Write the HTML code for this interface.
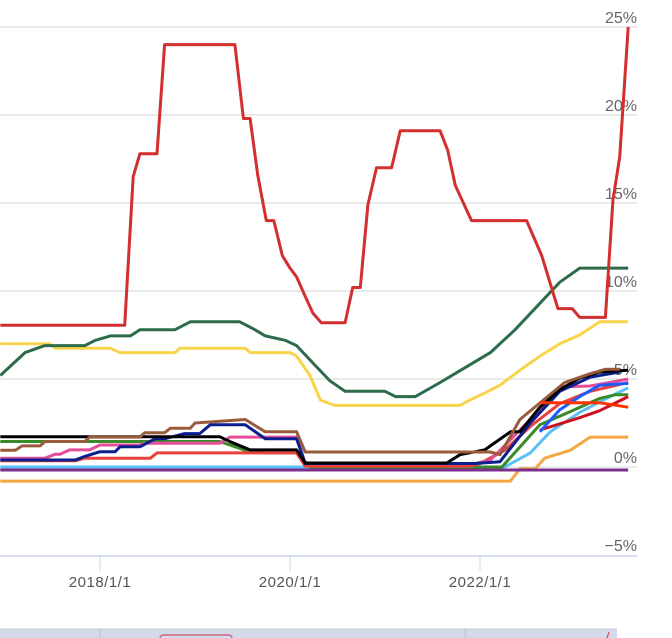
<!DOCTYPE html>
<html><head><meta charset="utf-8"><style>
html,body{margin:0;padding:0;background:#fff;width:672px;height:638px;overflow:hidden}
svg{display:block;font-family:"Liberation Sans",sans-serif}
</style></head><body>
<svg id="chart" width="672" height="638">
<g id="grid"></g>
<g id="series"></g>
<g id="xaxis"></g>
<g>
<rect x="0" y="629" width="617" height="9" fill="#d3daea"/>
<line x1="0" y1="629" x2="617" y2="629" stroke="#c4cad8"/>
<line x1="100" y1="629" x2="100" y2="638" stroke="#bcc4d6"/>
<line x1="465" y1="629" x2="465" y2="638" stroke="#bcc4d6"/>
<rect x="160" y="635" width="72" height="8" rx="3" fill="none" stroke="#c9506a" stroke-width="1.2"/>
<line x1="607" y1="638" x2="609" y2="632" stroke="#d33" stroke-width="1"/>
</g>
</svg>
<script>
const yTicks=[25,20,15,10,5,0,-5];
const yTickLabels=["25%","20%","15%","10%","5%","0%","\u22125%"];
const xTicks=[2018,2020,2022];
const xTickLabels=["2018/1/1","2020/1/1","2022/1/1"];

const redDates=[2016.95,2018.26,2018.35,2018.42,2018.6,2018.68,2019.42,2019.51,2019.58,2019.66,2019.75,2019.83,2019.92,2020,2020.07,2020.16,2020.24,2020.33,2020.58,2020.66,2020.74,2020.82,2020.91,2021.07,2021.16,2021.58,2021.66,2021.74,2021.91,2022.49,2022.65,2022.82,2022.97,2023.05,2023.32,2023.4,2023.47,2023.56];
const redValues=[8.05,8.05,16.5,17.8,17.8,24,24,19.8,19.8,16.6,14,14,12,11.3,10.8,9.7,8.75,8.2,8.2,10.2,10.2,14.9,17,17,19.1,19.1,18,16,14,14,12,9,9,8.5,8.5,15.2,17.6,25];
const dgreenDates=[2016.95,2017.21,2017.42,2017.84,2017.95,2018.11,2018.32,2018.42,2018.79,2018.95,2019.47,2019.63,2019.74,2019.95,2020.07,2020.26,2020.42,2020.58,2021,2021.11,2021.32,2021.58,2021.89,2022.11,2022.37,2022.63,2022.84,2023.05,2023.56];
const dgreenValues=[5.2,6.5,6.9,6.9,7.2,7.45,7.45,7.8,7.8,8.25,8.25,7.8,7.45,7.2,6.9,5.8,4.9,4.3,4.3,4.0,4.0,4.8,5.8,6.5,7.8,9.3,10.5,11.3,11.3];
const yellowDates=[2016.95,2017.47,2017.53,2018.11,2018.21,2018.79,2018.84,2019.53,2019.58,2020,2020.07,2020.21,2020.32,2020.47,2021.79,2021.89,2022.05,2022.21,2022.42,2022.63,2022.84,2023.05,2023.26,2023.56];
const yellowValues=[7.0,7.0,6.75,6.75,6.5,6.5,6.75,6.75,6.5,6.5,6.3,5.2,3.8,3.5,3.5,3.8,4.2,4.65,5.5,6.3,7.0,7.5,8.25,8.25];
const brownDates=[2016.95,2017.11,2017.18,2017.37,2017.42,2017.84,2017.89,2018.42,2018.47,2018.68,2018.74,2018.95,2019.0,2019.53,2019.74,2020.07,2020.16,2022.11,2022.21,2022.42,2022.89,2023.16,2023.32,2023.47];
const brownValues=[0.95,0.95,1.2,1.2,1.45,1.45,1.7,1.7,1.95,1.95,2.2,2.2,2.5,2.7,2.0,2.0,0.85,0.85,0.7,2.7,4.8,5.3,5.55,5.55];
const navyDates=[2016.95,2017.74,2017.84,2018,2018.16,2018.21,2018.42,2018.58,2018.68,2018.89,2019.05,2019.16,2019.53,2019.74,2020.07,2020.16,2021.95,2022.21,2022.53,2022.84,2023.16,2023.47];
const navyValues=[0.4,0.4,0.6,0.87,0.87,1.15,1.15,1.6,1.6,1.9,1.9,2.4,2.4,1.6,1.6,0.2,0.2,0.3,2.5,4.3,5.1,5.4];
const pinkDates=[2016.95,2017.42,2017.53,2017.58,2017.68,2017.89,2018,2018.42,2018.47,2019.26,2019.37,2020.07,2020.16,2021.95,2022.11,2022.53,2022.84,2023.16,2023.56];
const pinkValues=[0.5,0.5,0.73,0.73,0.97,0.97,1.25,1.25,1.35,1.35,1.7,1.7,0.2,0.2,0.4,2.7,4.55,4.6,5.0];
const lredDates=[2016.95,2017.74,2017.84,2018.53,2018.6,2020.07,2020.16,2021.89,2022.0,2022.26,2022.53,2022.84,2023.16,2023.56];
const lredValues=[0.35,0.35,0.5,0.5,0.8,0.8,0.05,0.05,0.2,0.95,2.3,3.6,4.3,4.8];
const blackDates=[2016.95,2019.26,2019.37,2019.58,2020.07,2020.16,2021.65,2021.79,2022.05,2022.32,2022.42,2022.63,2022.84,2023.05,2023.26,2023.56];
const blackValues=[1.72,1.72,1.44,0.97,0.97,0.23,0.23,0.7,0.97,2.0,2.0,3.4,4.4,5.05,5.4,5.5];
const mgreenDates=[2016.95,2019.26,2019.53,2019.74,2020.07,2020.21,2022.23,2022.63,2022.95,2023.26,2023.42,2023.56];
const mgreenValues=[1.45,1.45,0.95,0.8,0.8,0.0,0.0,2.4,3.15,3.9,4.1,4.1];
const lblueDates=[2016.95,2022.26,2022.53,2022.74,2023.05,2023.37,2023.56];
const lblueValues=[0.0,0.0,0.8,2.0,3.1,4.0,4.5];
const purpleDates=[2016.95,2023.56];
const purpleValues=[-0.17,-0.17];
const orangeDates=[2016.95,2022.32,2022.42,2022.58,2022.68,2022.95,2023.16,2023.56];
const orangeValues=[-0.8,-0.8,-0.1,-0.1,0.5,0.95,1.7,1.7];
const blueDates=[2022.63,2022.84,2023.05,2023.26,2023.56];
const blueValues=[2.0,3.25,4.0,4.65,4.75];
const oredDates=[2022.63,2023.26,2023.56];
const oredValues=[3.65,3.65,3.4];
const crimsonDates=[2022.63,2023.05,2023.26,2023.56];
const crimsonValues=[2.1,2.8,3.2,4.0];

const NS="http://www.w3.org/2000/svg";
function xScale(yr){return 100+(yr-2018)*95;}
function yScale(v){return 467-v*17.6;}
const grid=document.getElementById('grid');
yTicks.forEach((t,i)=>{
  const y=yScale(t);
  if(t!==-5){
    const l=document.createElementNS(NS,'line');
    l.setAttribute('x1',0);l.setAttribute('x2',637);l.setAttribute('y1',y);l.setAttribute('y2',y);
    l.setAttribute('stroke','#e3e3e3');l.setAttribute('stroke-width','1.5');
    
    
    grid.appendChild(l);
  }
  const tx=document.createElementNS(NS,'text');
  tx.setAttribute('x',637);tx.setAttribute('y',y-4);tx.setAttribute('text-anchor','end');
  tx.setAttribute('font-size','16');tx.setAttribute('fill','#666');
  tx.textContent=yTickLabels[i];
  
  
  grid.appendChild(tx);
});
const xa=document.getElementById('xaxis');
const base=document.createElementNS(NS,'line');
base.setAttribute('x1',0);base.setAttribute('x2',637);base.setAttribute('y1',556);base.setAttribute('y2',556);
base.setAttribute('stroke','#ccd6eb');base.setAttribute('stroke-width','1.5');


xa.appendChild(base);
xTicks.forEach((t,i)=>{
  const x=xScale(t);
  const l=document.createElementNS(NS,'line');
  l.setAttribute('x1',x);l.setAttribute('x2',x);l.setAttribute('y1',556);l.setAttribute('y2',571);
  l.setAttribute('stroke','#ccd6eb');
  
  
  xa.appendChild(l);
  const tx=document.createElementNS(NS,'text');
  tx.setAttribute('x',x);tx.setAttribute('y',587);tx.setAttribute('text-anchor','middle');
  tx.setAttribute('font-size','15');tx.setAttribute('fill','#555');tx.setAttribute('letter-spacing','0.5');
  tx.textContent=xTickLabels[i];
  
  
  xa.appendChild(tx);
});
const seriesList=[
 ['orange-series',orangeDates,orangeValues,'#f5a742'],
 ['purple-series',purpleDates,purpleValues,'#7b2d8e'],
 ['light-blue-series',lblueDates,lblueValues,'#5bc0f5'],
 ['mid-green-series',mgreenDates,mgreenValues,'#3a8a2a'],
 ['light-red-series',lredDates,lredValues,'#e8403a'],
 ['pink-series',pinkDates,pinkValues,'#e64c9a'],
 ['navy-series',navyDates,navyValues,'#0a1f8f'],
 ['black-series',blackDates,blackValues,'#000000'],
 ['brown-series',brownDates,brownValues,'#9a5b3c'],
 ['crimson-series',crimsonDates,crimsonValues,'#d0101e'],
 ['blue-series',blueDates,blueValues,'#1a5cff'],
 ['orange-red-series',oredDates,oredValues,'#ff3300'],
 ['yellow-series',yellowDates,yellowValues,'#f8d44c'],
 ['dark-green-series',dgreenDates,dgreenValues,'#2e6b4a'],
 ['red-series',redDates,redValues,'#d32f2f']
];
const sg=document.getElementById('series');
seriesList.forEach(s=>{
  const p=document.createElementNS(NS,'polyline');
  p.setAttribute('points',s[1].map((d,i)=>xScale(d).toFixed(1)+','+yScale(s[2][i]).toFixed(1)).join(' '));
  p.setAttribute('fill','none');p.setAttribute('stroke',s[3]);p.setAttribute('stroke-width','3');
  p.setAttribute('stroke-linejoin','round');
  
  
  sg.appendChild(p);
});
</script>
</body></html>
